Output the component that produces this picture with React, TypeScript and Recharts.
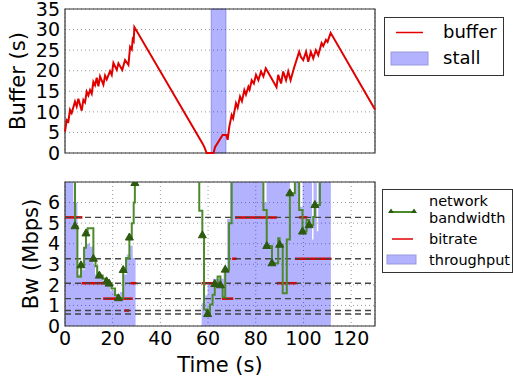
import React from 'react'
import {
  ComposedChart,
  Line,
  Area,
  XAxis,
  YAxis,
  CartesianGrid,
  ReferenceArea,
  ReferenceLine,
} from 'recharts'

const FONT = 'DejaVu Sans'

const TIME_TICKS = [0, 20, 40, 60, 80, 100, 120]
const BUFFER_TICKS = [0, 5, 10, 15, 20, 25, 30, 35]
const BW_TICKS = [0, 1, 2, 3, 4, 5, 6]

// buffer occupancy (s) over time (s)
const bufferTime = [
  0, 0.7, 1.4, 2.1, 2.8, 4.2, 4.9, 5.6, 7.0, 7.7, 8.4, 9.1, 9.8, 10.5, 11.2, 11.9,
  12.6, 13.3, 14.0, 14.7, 16.1, 16.8, 17.5, 18.9, 19.6, 20.3, 21.7, 22.4, 24.0,
  25.2, 26.6, 27.3, 28.0, 28.4, 28.8, 29.1, 57.6, 58.4, 59.4, 62.3, 62.9, 66.1,
  67.7, 68.2, 68.9, 69.9, 70.5, 71.7, 72.4, 73.4, 74.2, 75.2, 75.9, 76.9, 77.4,
  78.3, 79.2, 80.1, 81.1, 82.2, 83.2, 84.2, 88.7, 89.4, 90.6, 91.5, 92.7, 93.6,
  94.6, 96.0, 97.1, 98.2, 98.9, 99.9, 101.1, 102.0, 103.1, 104.1, 105.2, 106.2,
  107.6, 108.3, 109.4, 110.1, 111.4, 130,
]
const bufferLevel = [
  5.2, 8.0, 7.6, 10.5, 9.7, 12.5, 11.3, 13.2, 10.3, 12.9, 12.3, 14.9, 14.0, 15.3, 14.4, 17.3,
  16.5, 18.3, 16.2, 18.6, 16.6, 18.8, 17.9, 19.9, 19.0, 21.9, 20.2, 21.8, 20.2,
  22.6, 21.4, 25.8, 25.2, 27.6, 27.2, 30.6, 2.4, 1.5, 0, 0, 1.4, 4.4,
  4.4, 3.2, 6.4, 9.2, 8.4, 12.1, 11.0, 13.7, 12.6, 15.3, 14.2, 16.1, 15.4,
  17.7, 16.9, 19.0, 17.7, 19.8, 18.6, 20.6, 16.0, 19.0, 16.9, 19.8, 17.7, 19.8,
  17.7, 20.6, 22.6, 24.6, 23.4, 22.6, 24.6, 22.2, 24.6, 23.0, 25.0, 23.8,
  26.7, 26.0, 27.5, 27.0, 29.2, 10.6,
]

const stallStart = [61.3]
const stallEnd = [67.5]

// measured throughput (Mbps)
const throughputTime = [
  0, 3.5, 5.2, 6.6, 8.4, 10.5, 11.9, 12.6, 14.0, 16.1, 18.9, 21.0, 23.1, 24.7,
  25.9, 27.3, 28.4, 29.6, 57.3, 58.8, 59.8, 62.0, 66.5, 68.0, 69.2, 83.0, 84.5,
  94.3, 96.5, 98.2, 99.6, 103.6, 104.2, 105.6, 106.2, 111.5, 130,
]
const throughputMbps = [
  7.5, 6.0, 2.5, 2.75, 4.0, 3.85, 2.97, 2.5, 2.34, 2.1, 1.72, 1.48, 1.65, 2.5,
  3.47, 3.9, 3.3, 0, 1.1, 1.5, 2.1, 2.3, 2.6, 5.2, 7.5, 6.0, 7.5,
  6.4, 7.5, 5.8, 7.5, 4.2, 7.5, 4.6, 7.5, 0, 0,
]

// network bandwidth trace (Mbps); marked samples get a triangle
const bwTime = [
  0, 4.2, 5.2, 6.7, 8.0, 8.8, 9.5, 11.9, 12.8, 13.5, 14.4, 15.8, 17.4, 18.5, 19.5,
  21.0, 22.4, 24.4, 25.6, 27.0, 28.0, 28.8, 29.3, 30.0,
  56.3, 57.6, 58.3, 59.8, 60.8, 61.9, 62.8, 64.0, 65.2, 66.1, 67.2, 68.8, 69.9,
  83.2, 84.6, 86.8, 89.4, 90.0, 91.3, 93.0, 94.3, 96.4, 98.2, 99.6, 101.3, 102.4,
  104.1, 104.8, 106.9, 130,
]
const bwMbps = [
  9, 4.85, 2.4, 2.95, 3.8, 4.5, 4.75, 3.27, 2.9, 2.5, 2.45, 2.3, 2.17, 2.06, 1.82,
  1.5, 1.35, 2.72, 3.3, 4.3, 5.0, 6.0, 6.95, 9,
  5.6, 4.41, 0.8, 0.58, 1.04, 1.52, 2.04, 2.41, 1.98, 1.4, 2.74, 5.0, 9,
  5.64, 3.89, 3.05, 4.27, 3.95, 1.59, 4.2, 6.45, 9, 5.64, 4.59, 5.15, 4.9,
  5.3, 5.88, 9, 9,
]
const bwMarked = [1, 3, 5, 7, 10, 12, 13, 16, 17, 19, 22, 25, 27, 30, 32, 34, 38, 39, 41, 44, 47, 49, 51]

// available bitrate ladder (Mbps)
const bitrateLevels = [0.58, 0.75, 1.33, 2.08, 3.27, 5.28]

// selected bitrate per download interval
const bitrateStart = [0, 7.0, 16.0, 24.8, 27.5, 57.3, 65.8, 70.1, 71.3, 88.8, 96.4, 98.2]
const bitrateEnd = [7.3, 16.8, 28.4, 27.0, 30.0, 65.0, 70.6, 72.0, 88.8, 97.1, 111.8, 101.6]
const bitrateValue = [5.28, 2.08, 1.33, 0.75, 2.08, 2.08, 1.33, 3.27, 5.28, 2.08, 3.27, 5.28]

const bufferRows = bufferTime.map((t, i) => ({ t, v: bufferLevel[i] }))
const throughputRows = throughputTime.map((t, i) => ({ t, v: throughputMbps[i] }))
const bwRows = bwTime.map((t, i) => ({ t, v: bwMbps[i], mark: bwMarked.includes(i) }))
const bitrateSegments = bitrateStart.map((s, i) => [
  { t: s, v: bitrateValue[i] },
  { t: bitrateEnd[i], v: bitrateValue[i] },
])

const tickStyle = { fontSize: 19, fill: '#000', fontFamily: FONT }
const labelStyle = { fontSize: 21, fill: '#000', fontFamily: FONT, textAnchor: 'middle' as const }

const GREEN = '#4d8a2c'
const DARK_GREEN = '#2c5a10'
const RED = '#e00000'

function TriangleDot(props: any) {
  const { cx, cy, payload } = props
  if (!payload || !payload.mark || cx == null || cy == null) return <g />
  return (
    <path
      d={`M${cx},${cy - 4.5} L${cx + 4},${cy + 2.5} L${cx - 4},${cy + 2.5} Z`}
      fill={DARK_GREEN}
      stroke={DARK_GREEN}
      strokeWidth={1}
    />
  )
}

function BufferPanel() {
  return (
    <ComposedChart width={380} height={165} margin={{ top: 9, right: 5, left: 0, bottom: 12 }}>
      <CartesianGrid stroke="#999" strokeDasharray="1 3" />
      <XAxis
        type="number"
        dataKey="t"
        domain={[0, 130]}
        ticks={TIME_TICKS}
        height={0}
        tick={false}
        tickLine={false}
        axisLine={false}
      />
      <YAxis
        type="number"
        domain={[0, 35]}
        ticks={BUFFER_TICKS}
        width={65}
        tick={tickStyle}
        tickLine={false}
        tickSize={0}
        tickMargin={5}
        axisLine={false}
        interval={0}
        label={{ value: 'Buffer (s)', angle: -90, position: 'insideLeft', offset: 18, style: labelStyle }}
      />
      {stallStart.map((s, i) => (
        <ReferenceArea
          key={i}
          x1={s}
          x2={stallEnd[i]}
          y1={0}
          y2={35}
          fill="#0000ff"
          fillOpacity={0.3}
          stroke="#5555cc"
          strokeOpacity={0.5}
        />
      ))}
      <Line
        data={bufferRows}
        dataKey="v"
        type="linear"
        stroke={RED}
        strokeWidth={2}
        dot={false}
        isAnimationActive={false}
      />
      <ReferenceArea x1={0} x2={130} y1={0} y2={35} fill="none" stroke="#333" strokeWidth={1.2} />
    </ComposedChart>
  )
}

function BandwidthPanel() {
  return (
    <ComposedChart width={380} height={211} margin={{ top: 12, right: 5, left: 0, bottom: 0 }}>
      <CartesianGrid stroke="#999" strokeDasharray="1 3" />
      <XAxis
        type="number"
        dataKey="t"
        domain={[0, 130]}
        ticks={TIME_TICKS}
        height={55}
        tick={tickStyle}
        tickLine={false}
        tickSize={0}
        tickMargin={6}
        axisLine={false}
        interval={0}
        label={{ value: 'Time (s)', position: 'insideBottom', offset: 9, style: labelStyle }}
      />
      <YAxis
        type="number"
        domain={[0, 7]}
        ticks={BW_TICKS}
        allowDataOverflow
        width={65}
        tick={tickStyle}
        tickLine={false}
        tickSize={0}
        tickMargin={5}
        axisLine={false}
        interval={0}
        label={{ value: 'Bw (Mbps)', angle: -90, position: 'insideLeft', offset: 31, style: labelStyle }}
      />
      <Area
        data={throughputRows}
        dataKey="v"
        type="stepAfter"
        fill="#0000ff"
        fillOpacity={0.3}
        stroke="none"
        baseValue={0}
        isAnimationActive={false}
      />
      {bitrateSegments.map((seg, i) => (
        <Line
          key={`br${i}`}
          data={seg}
          dataKey="v"
          type="linear"
          stroke={RED}
          strokeWidth={2.5}
          dot={false}
          isAnimationActive={false}
        />
      ))}
      {bitrateLevels.map((lv) => (
        <ReferenceLine key={lv} y={lv} stroke="#444" strokeWidth={1.4} strokeDasharray="6 4" />
      ))}
      <Line
        data={bwRows}
        dataKey="v"
        type="stepAfter"
        stroke={GREEN}
        strokeWidth={2}
        dot={<TriangleDot />}
        activeDot={false}
        isAnimationActive={false}
      />
      <ReferenceArea x1={0} x2={130} y1={0} y2={7} fill="none" stroke="#333" strokeWidth={1.2} />
    </ComposedChart>
  )
}

const boxStyle: React.CSSProperties = {
  position: 'absolute',
  border: '1.3px solid #333',
  background: '#fff',
  boxSizing: 'border-box',
}

const textStyle = (top: number, left: number, size: number): React.CSSProperties => ({
  position: 'absolute',
  top,
  left,
  fontSize: size,
  lineHeight: `${size}px`,
  fontFamily: FONT,
  color: '#000',
  whiteSpace: 'nowrap',
})

function BufferLegend() {
  return (
    <div style={{ ...boxStyle, left: 384, top: 17, width: 120, height: 59 }}>
      <svg width={120} height={59} style={{ position: 'absolute', left: -1, top: -1 }}>
        <line x1={12} x2={39} y1={15.5} y2={15.5} stroke={RED} strokeWidth={1.5} />
        <rect x={7} y={35} width={37} height={13} fill="#b2b2ff" stroke="#9999dd" />
      </svg>
      <div style={textStyle(5, 58, 18)}>buffer</div>
      <div style={textStyle(31, 58, 18)}>stall</div>
    </div>
  )
}

function BandwidthLegend() {
  return (
    <div style={{ ...boxStyle, left: 382, top: 189, width: 131, height: 84 }}>
      <svg width={131} height={84} style={{ position: 'absolute', left: -1, top: -1 }}>
        <line x1={9} x2={32} y1={23} y2={23} stroke={GREEN} strokeWidth={2} />
        <path d="M9,19.5 L12,24 L6,24 Z" fill={DARK_GREEN} />
        <path d="M32,19.5 L35,24 L29,24 Z" fill={DARK_GREEN} />
        <line x1={10} x2={31} y1={50} y2={50} stroke={RED} strokeWidth={1.5} />
        <rect x={5} y={66} width={29} height={9} fill="#b2b2ff" stroke="#9999dd" />
      </svg>
      <div style={textStyle(4, 46, 14.5)}>network</div>
      <div style={textStyle(20.5, 46, 14.5)}>bandwidth</div>
      <div style={textStyle(42, 46, 14.5)}>bitrate</div>
      <div style={textStyle(63, 46, 14.5)}>throughput</div>
    </div>
  )
}

export default function App() {
  return (
    <div
      style={{
        position: 'fixed',
        left: 0,
        top: 0,
        width: 513,
        height: 381,
        background: '#fff',
        fontFamily: FONT,
        overflow: 'hidden',
      }}
    >
      <div style={{ position: 'absolute', left: 0, top: 0 }}>
        <BufferPanel />
      </div>
      <div style={{ position: 'absolute', left: 0, top: 170 }}>
        <BandwidthPanel />
      </div>
      <BufferLegend />
      <BandwidthLegend />
    </div>
  )
}
